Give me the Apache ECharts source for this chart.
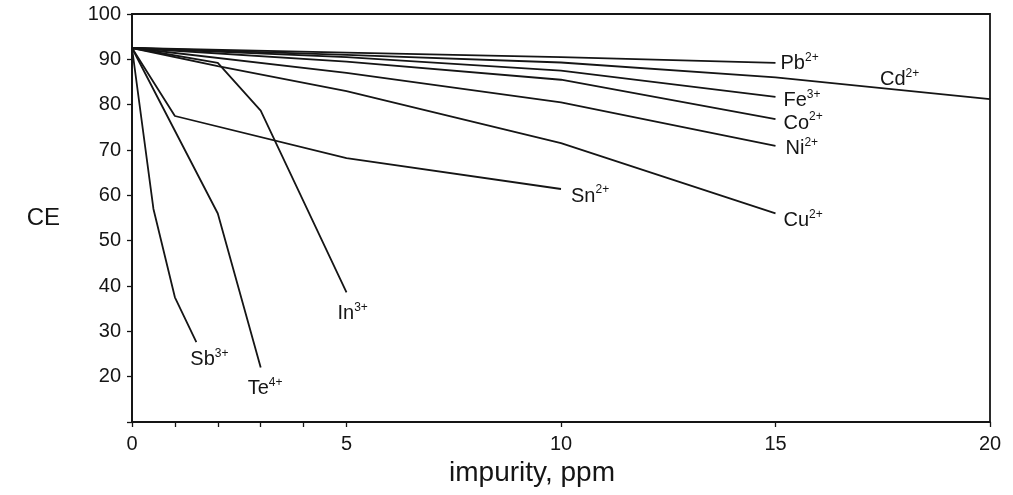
<!DOCTYPE html>
<html>
<head>
<meta charset="utf-8">
<script src="https://cdn.jsdelivr.net/npm/echarts@6/dist/echarts.min.js"></script>
<style>
html,body{margin:0;padding:0;background:#fff;}
#chart{width:1013px;height:495px;}
</style>
</head>
<body>
<div id="chart"></div>
<script>
// ---- data ----
const ionNames = ['Pb', 'Cd', 'Fe', 'Co', 'Ni', 'Cu', 'Sn', 'In', 'Te', 'Sb'];
const ionCharges = ['2+', '2+', '3+', '2+', '2+', '2+', '2+', '3+', '4+', '3+'];
const Pb = [[0, 92.5], [5, 91.5], [10, 90.5], [15, 89.2]];
const Cd = [[0, 92.5], [5, 91], [10, 89.3], [15, 86], [20, 81.2]];
const Fe = [[0, 92.5], [5, 90.5], [10, 87.5], [15, 81.7]];
const Co = [[0, 92.5], [5, 89.5], [10, 85.5], [15, 76.8]];
const Ni = [[0, 92.5], [5, 87], [10, 80.5], [15, 70.9]];
const Cu = [[0, 92.5], [2, 88.5], [5, 83], [10, 71.5], [15, 56]];
const Sn = [[0, 92.5], [1, 77.5], [5, 68.2], [10, 61.4]];
const In = [[0, 92.5], [2, 89.2], [3, 78.7], [5, 38.6]];
const Te = [[0, 92.5], [2, 56], [3, 22]];
const Sb = [[0, 92.5], [0.5, 57], [1, 37.5], [1.5, 27.6]];
const xTickValues = [0, 1, 2, 3, 4, 5, 10, 15, 20];
const xLabelValues = [0, 5, 10, 15, 20];
const yTickValues = [10, 20, 30, 40, 50, 60, 70, 80, 90, 100];
const yLabelValues = [20, 30, 40, 50, 60, 70, 80, 90, 100];

const seriesData = [Pb, Cd, Fe, Co, Ni, Cu, Sn, In, Te, Sb];
// label offsets (style only)
const labelOffsets = {
  Pb: [1, 0], Cd: [-114, -21], Fe: [4, 3], Co: [4, 3], Ni: [6, 2],
  Cu: [4, 6], Sn: [6, 6], In: [-13, 20], Te: [-17, 20], Sb: [-10, 16]
};

const FONT = '"Liberation Sans", Arial, Helvetica, sans-serif';
const INK = '#151515';

const series = ionNames.map((name, i) => ({
  name: name,
  type: 'line',
  data: seriesData[i],
  symbol: 'none',
  smooth: false,
  lineStyle: { color: INK, width: 1.8 },
  endLabel: {
    show: true,
    formatter: () => '{b|' + name + '}{s|' + ionCharges[i] + '}',
    offset: labelOffsets[name],
    distance: 4,
    rich: {
      b: { fontFamily: FONT, fontSize: 20, color: INK, lineHeight: 22, verticalAlign: 'bottom' },
      s: { fontFamily: FONT, fontSize: 12, color: INK, lineHeight: 22, verticalAlign: 'top' }
    }
  },
  z: 3
}));

const chart = echarts.init(document.getElementById('chart'), null, { renderer: 'canvas' });
chart.setOption({
  animation: false,
  backgroundColor: '#ffffff',
  grid: {
    left: 132, right: 23, top: 14, bottom: 73,
    containLabel: false,
    outerBoundsMode: 'none',
    show: true, borderColor: INK, borderWidth: 1.8, backgroundColor: 'transparent'
  },
  xAxis: {
    type: 'value',
    min: 0, max: 20,
    name: 'impurity, ppm',
    nameLocation: 'middle',
    nameGap: 37,
    nameTextStyle: { fontFamily: FONT, fontSize: 28, color: INK, padding: [0, 58, 0, 0] },
    axisLine: { show: true, lineStyle: { color: INK, width: 1.8 } },
    axisTick: { show: true, length: 5, customValues: xTickValues, lineStyle: { color: INK, width: 1.3 } },
    axisLabel: { customValues: xLabelValues, fontFamily: FONT, fontSize: 20, color: INK, margin: 12 },
    splitLine: { show: false }
  },
  yAxis: {
    type: 'value',
    min: 10, max: 100, interval: 10,
    name: 'CE',
    nameLocation: 'middle',
    nameRotate: 0,
    nameGap: 72,
    nameTextStyle: { fontFamily: FONT, fontSize: 24, color: INK },
    axisLine: { show: true, lineStyle: { color: INK, width: 1.8 } },
    axisTick: { show: true, length: 5, customValues: yTickValues, lineStyle: { color: INK, width: 1.3 } },
    axisLabel: { customValues: yLabelValues, fontFamily: FONT, fontSize: 20, color: INK, margin: 11 },
    splitLine: { show: false }
  },
  series: series
});
</script>
</body>
</html>
